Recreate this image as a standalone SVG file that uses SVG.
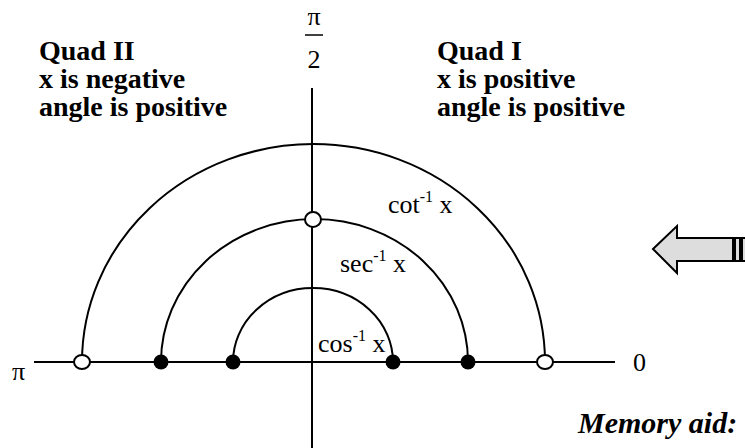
<svg xmlns="http://www.w3.org/2000/svg" width="745" height="448" viewBox="0 0 745 448">
<style>
.t{font-family:"Liberation Serif","Times New Roman",serif;fill:#000}
.b{font-weight:bold;font-size:28px}
.l{font-size:26px}
.s{font-size:16px}
.ln{stroke:#000;stroke-width:2;fill:none}
.open{fill:#fff;stroke:#000;stroke-width:2}
.fill{fill:#000}
</style>
<rect width="745" height="448" fill="#fff"/>
<g id="connectors">
<line class="ln" x1="34" y1="362" x2="615" y2="362"/>
<line class="ln" x1="312" y1="88" x2="312" y2="448"/>
<path class="ln" d="M82 362 A231.5 218 0 0 1 545 362"/>
<path class="ln" d="M161 362 A153.5 143 0 0 1 468 362"/>
<path class="ln" d="M233 362 A80 74 0 0 1 393 362"/>
</g>
<g id="dot-cot-left"><ellipse class="open" cx="82" cy="362" rx="8" ry="7"/></g>
<g id="dot-cot-right"><ellipse class="open" cx="545" cy="362" rx="8" ry="7"/></g>
<g id="dot-sec-top"><ellipse class="open" cx="313" cy="219.5" rx="8" ry="7.5"/></g>
<g id="dot-sec-left"><circle class="fill" cx="161" cy="362" r="7.5"/></g>
<g id="dot-sec-right"><circle class="fill" cx="468" cy="362" r="7.5"/></g>
<g id="dot-cos-left"><circle class="fill" cx="233" cy="362" r="7.5"/></g>
<g id="dot-cos-right"><circle class="fill" cx="393" cy="362" r="7.5"/></g>
<g id="label-pi-half">
<text class="t l" x="314" y="25" text-anchor="middle" font-size="27">π</text>
<line stroke="#000" stroke-width="1.5" x1="305" y1="35" x2="323" y2="35"/>
<text class="t l" x="314" y="68" text-anchor="middle">2</text>
</g>
<g id="label-pi"><text class="t l" x="12" y="380">π</text></g>
<g id="label-zero"><text class="t l" x="633" y="371">0</text></g>
<g id="quad2">
<text class="t b" x="39" y="60">Quad II</text>
<text class="t b" x="39" y="88">x is negative</text>
<text class="t b" x="39" y="116">angle is positive</text>
</g>
<g id="quad1">
<text class="t b" x="437" y="60">Quad I</text>
<text class="t b" x="437" y="88">x is positive</text>
<text class="t b" x="437" y="116">angle is positive</text>
</g>
<g id="label-cot"><text class="t l" x="388" y="213">cot<tspan class="s" dy="-11">-1</tspan><tspan dy="11"> x</tspan></text></g>
<g id="label-sec"><text class="t l" x="340" y="272">sec<tspan class="s" dy="-11">-1</tspan><tspan dy="11"> x</tspan></text></g>
<g id="label-cos"><text class="t l" x="318" y="352">cos<tspan class="s" dy="-11">-1</tspan><tspan dy="11"> x</tspan></text></g>
<g id="arrow">
<polygon points="653,249 677,226 677,238 733,238 733,261 677,261 677,273" fill="#ddd" stroke="#000" stroke-width="2"/>
<rect x="735" y="238" width="5" height="23" fill="#ddd" stroke="#000" stroke-width="2"/>
<rect x="742" y="238" width="6" height="23" fill="#ddd" stroke="#000" stroke-width="2"/>
</g>
<g id="memory"><text class="t" x="578" y="433" font-size="30" font-weight="bold" font-style="italic">Memory aid:</text></g>
</svg>
